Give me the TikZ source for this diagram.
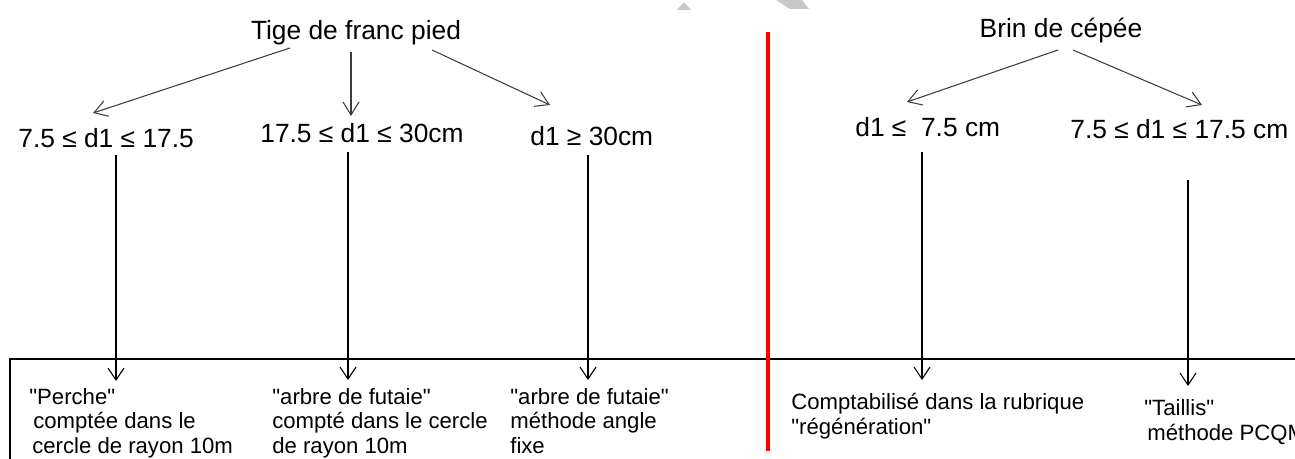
\documentclass[tikz,border=0pt]{standalone}
\usepackage{fontspec}
\setmainfont{Liberation Sans}[Ligatures=TeXOff]
\usetikzlibrary{arrows.meta}
\definecolor{redline}{RGB}{255,0,0}
\definecolor{arrgray}{RGB}{60,60,60}
\definecolor{speck}{RGB}{200,200,200}
\begin{document}
\begin{tikzpicture}[x=0.02cm,y=-0.02cm,
  head/.style={font=\fontsize{15}{18}\selectfont, inner sep=0pt, anchor=base},
  lab/.style={font=\fontsize{15}{18}\selectfont, inner sep=0pt, anchor=base west},
  note/.style={font=\fontsize{12.6}{13.7}\selectfont, inner sep=0pt, anchor=base west, align=left},
  arr/.style={draw=arrgray, line width=0.6pt, -{Straight Barb[length=0.26cm,width=0.32cm]}},
  varr/.style={draw=black, line width=0.6pt, -{Straight Barb[length=0.24cm,width=0.32cm]}},
  boxline/.style={draw=black, line width=0.8pt},
  divider/.style={draw=redline, line width=2.3pt},
  artifact/.style={fill=speck, draw=none}
]
\useasboundingbox (0,0) rectangle (1295,459);

% faint scan artifacts at the top
\fill[artifact] (677,10) -- (684,2) -- (691,10) -- cycle;
\fill[artifact] (776,0) -- (802,0) -- (809,9) -- (790,9) -- cycle;

% headings
\node[head] (tige) at (356,40) {Tige de franc pied};
\node[head] (brin) at (1061,38) {Brin de cépée};

% labels
\node[lab] (l1) at (18,148) {7.5 ≤ d1 ≤ 17.5};
\node[lab] (l2) at (260,143) {17.5 ≤ d1 ≤ 30cm};
\node[lab] (l3) at (530,146) {d1 ≥ 30cm};
\node[lab] (r1) at (855,137) {d1 ≤\ \ 7.5 cm};
\node[lab] (r2) at (1070,139) {7.5 ≤ d1 ≤ 17.5 cm};

% first level arrow end points
\coordinate (t1s) at (290,48);  \coordinate (t1e) at (93,113);
\coordinate (t2s) at (351,52);  \coordinate (t2e) at (351,116);
\coordinate (t3s) at (432,50);  \coordinate (t3e) at (550,105);
\coordinate (b1s) at (1058,50); \coordinate (b1e) at (907,102);
\coordinate (b2s) at (1073,50); \coordinate (b2e) at (1202,105);
\draw[arr] (t1s) -- (t1e);
\draw[arr] (t2s) -- (t2e);
\draw[arr] (t3s) -- (t3e);
\draw[arr] (b1s) -- (b1e);
\draw[arr] (b2s) -- (b2e);

% box
\coordinate (boxl) at (10,359);
\coordinate (boxr) at (1295,359);
\coordinate (boxb) at (10,459);
\draw[boxline] (boxb) -- (boxl) -- (boxr);

% vertical arrows
\coordinate (v1s) at (116,155);  \coordinate (v1e) at (116,381);
\coordinate (v2s) at (348,152);  \coordinate (v2e) at (348,380);
\coordinate (v3s) at (588,155);  \coordinate (v3e) at (588,380);
\coordinate (v4s) at (922,152);  \coordinate (v4e) at (922,380);
\coordinate (v5s) at (1188,180); \coordinate (v5e) at (1188,386);
\draw[varr] (v1s) -- (v1e);
\draw[varr] (v2s) -- (v2e);
\draw[varr] (v3s) -- (v3e);
\draw[varr] (v4s) -- (v4e);
\draw[varr] (v5s) -- (v5e);

% red divider
\coordinate (dtop) at (768,32);
\coordinate (dbot) at (768,451);
\draw[divider] (dtop) -- (dbot);

% notes (anchored at the baseline of their last line)
\node[note] (n1) at (29,453) {"Perche"\\\hspace*{0.08cm}comptée dans le\\\hspace*{0.06cm}cercle de rayon 10m};
\node[note] (n2) at (272,453) {"arbre de futaie"\\compté dans le cercle\\de rayon 10m};
\node[note] (n3) at (510,453) {"arbre de futaie"\\méthode angle\\fixe};
\node[note] (n4) at (791,434) {Comptabilisé dans la rubrique\\"régénération"};
\node[note] (n5) at (1144,440) {"Taillis"\\\hspace*{0.06cm}méthode PCQM};
\end{tikzpicture}
\end{document}
